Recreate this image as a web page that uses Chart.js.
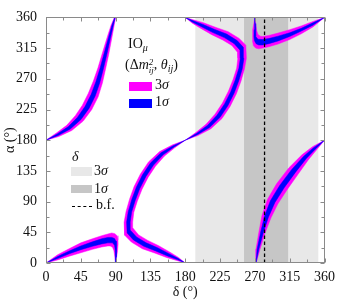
<!DOCTYPE html>
<html>
<head>
<meta charset="utf-8">
<script src="https://cdn.jsdelivr.net/npm/chart.js@4.4.0/dist/chart.umd.min.js"></script>
<style>
body { margin: 0; background: #fff; }
#wrap { position: relative; width: 341px; height: 306px; font-family: "Liberation Serif", "Times New Roman", serif; color: #111; }
canvas { position: absolute; left: 0; top: 0; }
.lg { position: absolute; font-size: 14px; line-height: 14px; white-space: nowrap; }
.lg sub { font-size: 10px; vertical-align: -3px; line-height: 0; }
.ss { display: inline-block; vertical-align: -4px; font-size: 9px; line-height: 8px; font-style: italic; }
.ss span { display: block; }
.box { position: absolute; }
</style>
</head>
<body>
<div id="wrap">
<canvas id="chart" width="341" height="306"></canvas>

<div class="lg" style="left:128px;top:37px">IO<sub><i>μ</i></sub></div>
<div class="lg" style="left:125px;top:58px">(Δ<i>m</i><span class="ss"><span>2</span><span>ij</span></span>, <i>θ</i><sub><i>ij</i></sub>)</div>
<div class="box" style="left:129px;top:82px;width:23px;height:9px;background:#ff00ff"></div>
<div class="lg" style="left:155px;top:78px">3<i>σ</i></div>
<div class="box" style="left:129px;top:99px;width:23px;height:9px;background:#0000ff"></div>
<div class="lg" style="left:155px;top:95px">1<i>σ</i></div>

<div class="lg" style="left:72px;top:150px"><i>δ</i></div>
<div class="box" style="left:71px;top:167px;width:21px;height:9px;background:#e8e8e8"></div>
<div class="lg" style="left:94px;top:164px">3<i>σ</i></div>
<div class="box" style="left:71px;top:185px;width:21px;height:8px;background:#c6c6c6"></div>
<div class="lg" style="left:94px;top:182px">1<i>σ</i></div>
<div class="box" style="left:72px;top:206px;width:20px;height:0;border-top:1.3px dashed #000"></div>
<div class="lg" style="left:96px;top:198px">b.f.</div>
</div>

<script>
// axis ticks
var deltaTicks = [0, 45, 90, 135, 180, 225, 270, 315, 360];
var alphaTicks = [0, 45, 90, 135, 180, 225, 270, 315, 360];

// delta ranges (deg)
var delta3s = [193, 352];
var delta1s = [256, 313];
var deltaBF = 282.5;

// bottom-left fin, [delta, alpha]
var fin3Upper = [[0,0],[15,12],[30,21],[45,29.5],[60,35.5],[72,40],[80,42.5],[85,44],[89,43],[91.8,40],[93,34],[93.2,28],[92.5,18],[91.3,9],[90,0]];
var fin3Lower = [[0,0],[15,4.5],[30,10],[45,15],[60,20],[72,23.5],[80,25],[83,25],[86,23],[87.8,18],[89,9],[90,0]];
var fin1Upper = [[0,0],[15,9.5],[30,17.5],[45,25],[60,31],[72,35.5],[80,37.5],[85,37.5],[88.5,36],[90.6,32],[91.2,28],[91,18],[90.6,9],[90,0]];
var fin1Lower = [[0,0],[15,6.5],[30,13.5],[45,19.5],[60,24.5],[72,28],[80,29.5],[86,29.5],[88.6,26],[89.3,18],[89.7,9],[90,0]];

// top-right fin
var tr3Outer = [[360,360],[345,346],[330,336],[315,327.5],[300,321],[288,317],[280,315],[275,314],[271,315],[268.2,318.5],[267,325],[266.8,332],[267.5,342],[268.7,351],[270,360]];
var tr3Inner = [[360,360],[345,354],[330,347.5],[315,342],[300,337],[288,333.5],[280,332],[277,332.5],[274,335],[272.2,341],[271,351],[270,360]];
var tr1Outer = [[360,360],[345,348.5],[330,340],[315,332],[300,325.5],[288,321.5],[280,319.5],[275,319.5],[271.5,321.5],[269.4,326],[268.8,332],[269,342],[269.4,351],[270,360]];
var tr1Inner = [[360,360],[345,352],[330,344],[315,337.5],[300,332.5],[288,329],[280,327.5],[274,328],[271.4,332],[270.7,342],[270.3,351],[270,360]];

// lower hook (180,180) -> (180,0)
var hk3Outer = [[180,180],[163.7,173.2],[146.9,163.3],[132.5,148.2],[122.1,130.5],[113.9,112],[108,93.5],[103.5,75.6],[101,60],[101.7,40.7],[110.3,30.8],[124.5,20.9],[140.3,14.7],[155.8,8.1],[168.8,3.8],[180,0]];
var hk3Inner = [[180,180],[166.3,168.8],[153.1,156.7],[141.5,141.8],[131.9,125.5],[124.1,108],[118,90.5],[113.5,74.4],[112,60],[112.3,51.3],[119.7,41.2],[131.5,33.1],[145.7,25.3],[160.2,15.9],[171.2,8.2],[180,0]];
var hk1Outer = [[180,180],[164.4,171.9],[148.6,161.5],[135,146.5],[124.8,129.2],[116.8,110.9],[110.8,92.7],[106.3,75.3],[104.2,60],[104.9,43.9],[113,33.8],[126.5,24.4],[141.8,17.7],[157,10.3],[169.5,5],[180,0]];
var hk1Inner = [[180,180],[165.6,170.1],[151.4,158.5],[139,143.5],[129.2,126.8],[121.2,109.1],[115.2,91.3],[110.7,74.7],[108.8,60],[109.1,48.1],[117,38.2],[129.5,29.6],[144.2,22.3],[159,13.7],[170.5,7],[180,0]];

// upper hook (180,180) -> (180,360)
var hu3Outer = [[180,180],[196.3,186.8],[213.1,196.7],[227.5,211.8],[237.9,229.5],[246.1,248],[252,266.5],[256.5,284.4],[259,300],[258.3,319.3],[249.7,329.2],[235.5,339.1],[219.7,345.3],[204.2,351.9],[191.2,356.2],[180,360]];
var hu3Inner = [[180,180],[193.7,191.2],[206.9,203.3],[218.5,218.2],[228.1,234.5],[235.9,252],[242,269.5],[246.5,285.6],[248,300],[247.7,308.7],[240.3,318.8],[228.5,326.9],[214.3,334.7],[199.8,344.1],[188.8,351.8],[180,360]];
var hu1Outer = [[180,180],[195.6,188.1],[211.4,198.5],[225,213.5],[235.2,230.8],[243.2,249.1],[249.2,267.3],[253.7,284.7],[255.8,300],[255.1,316.1],[247,326.2],[233.5,335.6],[218.2,342.3],[203,349.7],[190.5,355],[180,360]];
var hu1Inner = [[180,180],[194.4,189.9],[208.6,201.5],[221,216.5],[230.8,233.2],[238.8,250.9],[244.8,268.7],[249.3,285.3],[251.2,300],[250.9,311.9],[243,321.8],[230.5,330.4],[215.8,337.7],[201,346.3],[189.5,353],[180,360]];

// top-left branch (0,180) -> (89,360)
var tl3Outer = [[0,180],[13.5,190.6],[26.8,201.8],[37.9,216],[47,231.2],[54.6,248.4],[61.2,266.6],[67.2,286.2],[72.9,307.9],[79,330.5],[84,348.2],[88.4,360]];
var tl3Inner = [[0,180],[16.5,185.4],[33.3,194.2],[48.1,208],[59,224.8],[67.4,243.6],[72.8,263.4],[76.9,283.9],[81.1,306.1],[85,329.5],[88,347.8],[90,360]];
var tl1Outer = [[0,180],[14.3,189.1],[28.6,199.6],[40.8,213.7],[50.4,229.4],[58.3,247],[64.5,265.7],[69.9,285.5],[75.2,307.4],[80.7,330.2],[85.1,348.1],[88.9,360]];
var tl1Inner = [[0,180],[15.7,186.9],[31.4,196.4],[45.2,210.3],[55.6,226.6],[63.7,245],[69.5,264.3],[74.1,284.5],[78.8,306.6],[83.3,329.8],[86.9,347.9],[89.5,360]];

// bottom-right branch (271,0) -> (360,180)
var br3Outer = [[271.5,0],[276.5,19.6],[282.9,43.2],[290.8,66.3],[299.8,86.9],[311.9,107.9],[326.2,130.7],[339.2,151.5],[349.5,165.5],[360,180]];
var br3Inner = [[271.5,0],[271.5,20.4],[275.1,44.8],[279.2,69.7],[286.2,93.1],[298.1,116.1],[313.8,139.3],[330.8,158.5],[344.5,170.5],[360,180]];
var br1Outer = [[271.5,0],[275.1,19.8],[280.7,43.7],[287.5,67.2],[295.9,88.7],[307.9,110.3],[322.6,133.2],[336.8,153.5],[348.1,166.9],[360,180]];
var br1Inner = [[271.5,0],[272.9,20.2],[277.3,44.3],[282.5,68.8],[290.1,91.3],[302.1,113.7],[317.4,136.8],[333.2,156.5],[345.9,169.1],[360,180]];

var MAGENTA = '#ff00ff';
var BLUE = '#0000ff';

function polygon(a, b) {
	return a.concat(b.slice().reverse()).map(function(p) { return {x: p[0], y: p[1]}; });
}

function band(a, b, color, order) {
	return {
		data: polygon(a, b),
		showLine: true,
		fill: 'shape',
		backgroundColor: color,
		borderColor: color,
		borderWidth: 0.5,
		pointRadius: 0,
		tension: 0,
		order: order
	};
}

function deltaRange(r, color, order) {
	return {
		data: [{x: r[0], y: 0}, {x: r[1], y: 0}, {x: r[1], y: 360}, {x: r[0], y: 360}],
		showLine: true,
		fill: 'shape',
		backgroundColor: color,
		borderColor: 'rgba(0,0,0,0)',
		borderWidth: 0,
		pointRadius: 0,
		order: order
	};
}

var datasets = [
	{
		data: [{x: deltaBF, y: 0}, {x: deltaBF, y: 360}],
		showLine: true,
		borderColor: '#000',
		borderWidth: 1.3,
		borderDash: [3.5, 2.5],
		pointRadius: 0,
		order: 0
	},
	band(fin1Upper, fin1Lower, BLUE, 1),
	band(tr1Outer, tr1Inner, BLUE, 1),
	band(hk1Outer, hk1Inner, BLUE, 1),
	band(hu1Outer, hu1Inner, BLUE, 1),
	band(tl1Outer, tl1Inner, BLUE, 1),
	band(br1Outer, br1Inner, BLUE, 1),
	band(fin3Upper, fin3Lower, MAGENTA, 2),
	band(tr3Outer, tr3Inner, MAGENTA, 2),
	band(hk3Outer, hk3Inner, MAGENTA, 2),
	band(hu3Outer, hu3Inner, MAGENTA, 2),
	band(tl3Outer, tl3Inner, MAGENTA, 2),
	band(br3Outer, br3Inner, MAGENTA, 2),
	deltaRange(delta1s, '#c6c6c6', 3),
	deltaRange(delta3s, '#e8e8e8', 4)
];

// frame and inward tick marks on all four sides
var framePlugin = {
	id: 'frame',
	afterDatasetsDraw: function(chart) {
		var ctx = chart.ctx, a = chart.chartArea;
		var xs = chart.scales.x, ys = chart.scales.y;
		var L = Math.round(a.left) + 0.5, R = Math.round(a.right) - 0.5;
		var T = Math.round(a.top) + 0.5, B = Math.round(a.bottom) - 0.5;
		ctx.save();
		ctx.strokeStyle = '#8a8a8a';
		ctx.lineWidth = 1;
		ctx.strokeRect(L, T, R - L, B - T);
		ctx.beginPath();
		for (var v = 0; v <= 360; v += 22.5) {
			var len = (v % 45 === 0) ? 4 : 3;
			var px = Math.round(xs.getPixelForValue(v)) + 0.5;
			ctx.moveTo(px, B); ctx.lineTo(px, B - len);
			ctx.moveTo(px, T); ctx.lineTo(px, T + len);
			var py = Math.round(ys.getPixelForValue(v)) + 0.5;
			ctx.moveTo(L, py); ctx.lineTo(L + len, py);
			ctx.moveTo(R, py); ctx.lineTo(R - len, py);
		}
		ctx.stroke();
		ctx.restore();
	}
};

var tickFont = {family: 'Liberation Serif', size: 14};

new Chart(document.getElementById('chart'), {
	type: 'scatter',
	data: {datasets: datasets},
	options: {
		responsive: false,
		animation: false,
		layout: {padding: {top: 8, right: 12, left: 0, bottom: 0}},
		plugins: {legend: {display: false}, tooltip: {enabled: false}},
		scales: {
			x: {
				type: 'linear', min: 0, max: 360,
				afterBuildTicks: function(s) { s.ticks = deltaTicks.map(function(v) { return {value: v}; }); },
				afterFit: function(s) { s.height = 43; },
				grid: {display: false, drawTicks: false},
				border: {display: false},
				ticks: {padding: 6, font: tickFont, color: '#111', maxRotation: 0, autoSkip: false},
				title: {display: true, text: 'δ (°)', font: tickFont, color: '#111', padding: {top: 0, bottom: 5}}
			},
			y: {
				type: 'linear', min: 0, max: 360,
				afterBuildTicks: function(s) { s.ticks = alphaTicks.map(function(v) { return {value: v}; }); },
				afterFit: function(s) { s.width = 46; },
				grid: {display: false, drawTicks: false},
				border: {display: false},
				ticks: {padding: 9, font: tickFont, color: '#111', autoSkip: false},
				title: {display: true, text: 'α (°)', font: tickFont, color: '#111', padding: {top: 2, bottom: 0}}
			}
		}
	},
	plugins: [framePlugin]
});
</script>
</body>
</html>
